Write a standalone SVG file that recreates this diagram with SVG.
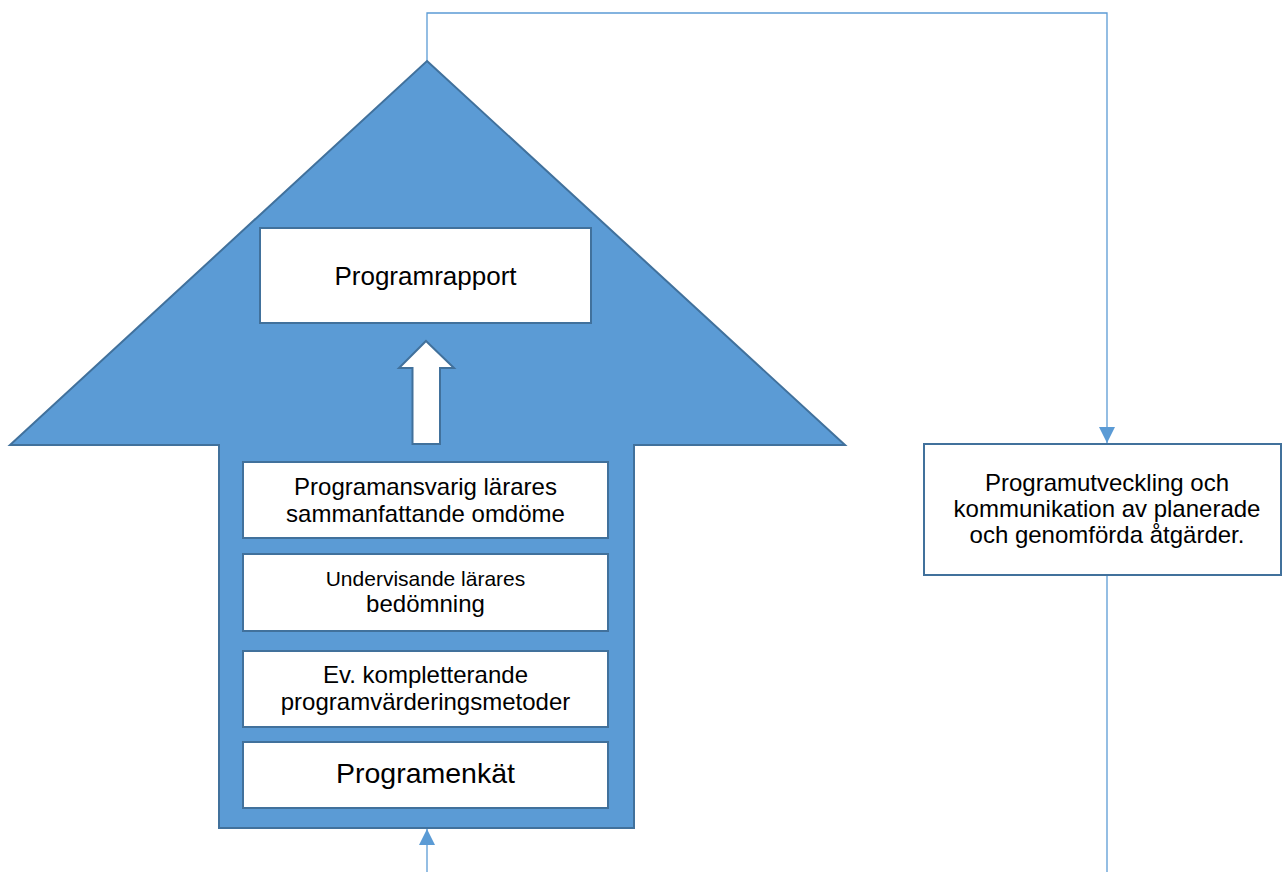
<svg xmlns="http://www.w3.org/2000/svg" width="1283" height="872" viewBox="0 0 1283 872">
<style>
.shape{fill:#5B9BD5;stroke:#41719C;stroke-width:2}
.box{fill:#FFFFFF;stroke:#41719C;stroke-width:2}
.conn{fill:none;stroke:#5B9BD5;stroke-width:1.3}
text{font-family:"Liberation Sans",Arial,sans-serif;fill:#000;text-anchor:middle}
</style>
<defs>
<marker id="ah" markerWidth="16" markerHeight="16" viewBox="0 0 16 16" refX="16" refY="8" orient="auto" markerUnits="userSpaceOnUse">
<path d="M0,0 L16,8 L0,16 Z" fill="#5B9BD5"/>
</marker>
</defs>
<rect width="1283" height="872" fill="#FFFFFF"/>
<g id="connectors">
<polyline class="conn" points="427,61 427,13 1107,13 1107,443" marker-end="url(#ah)"/>
<line class="conn" x1="1107" y1="575" x2="1107" y2="872"/>
<line class="conn" x1="427" y1="872" x2="427" y2="829" marker-end="url(#ah)"/>
</g>
<g id="big-arrow">
<polygon class="shape" points="427,61 845,445 634,445 634,828 219,828 219,445 10,445"/>
</g>
<g id="inner-arrow">
<polygon class="box" points="426,341 454,368 440,368 440,444 412.5,444 412.5,368 399,368"/>
</g>
<g id="programrapport">
<rect class="box" x="260" y="228" width="331" height="95"/>
<text x="425.5" y="285" font-size="26">Programrapport</text>
</g>
<g id="programansvarig">
<rect class="box" x="243" y="462" width="365" height="76"/>
<text x="425.5" y="495" font-size="24">Programansvarig lärares</text>
<text x="425.5" y="522" font-size="24">sammanfattande omdöme</text>
</g>
<g id="undervisande">
<rect class="box" x="243" y="554" width="365" height="77"/>
<text x="425.5" y="586" font-size="21">Undervisande lärares</text>
<text x="425.5" y="612" font-size="24">bedömning</text>
</g>
<g id="kompletterande">
<rect class="box" x="243" y="651" width="365" height="76"/>
<text x="425.5" y="683" font-size="24">Ev. kompletterande</text>
<text x="425.5" y="710" font-size="24">programvärderingsmetoder</text>
</g>
<g id="programenkat">
<rect class="box" x="243" y="742" width="365" height="66"/>
<text x="425.5" y="783" font-size="28.5">Programenkät</text>
</g>
<g id="programutveckling">
<rect class="box" x="924" y="444" width="357" height="131"/>
<text x="1107" y="491" font-size="24">Programutveckling och</text>
<text x="1107" y="517" font-size="24">kommunikation av planerade</text>
<text x="1107" y="543" font-size="24">och genomförda åtgärder.</text>
</g>
</svg>
